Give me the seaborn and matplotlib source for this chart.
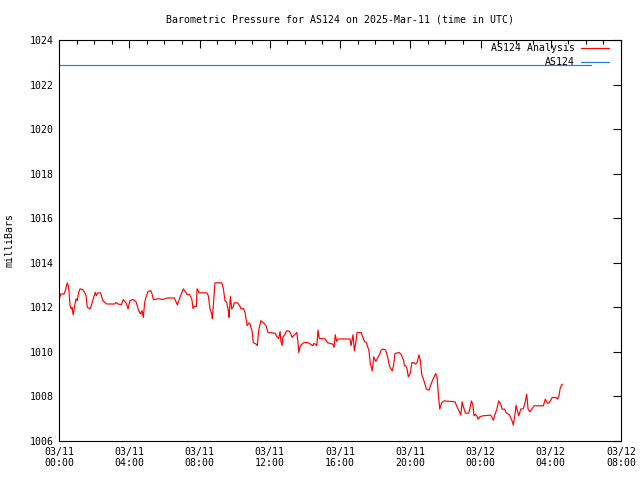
import matplotlib
matplotlib.use("Agg")
import matplotlib.pyplot as plt
import seaborn as sns
import pandas as pd
from matplotlib.ticker import MultipleLocator

# ---- data (hours since 2025-03-11 00:00 UTC, pressure in mb) ----
analysis_hours = [
    0.00, 0.10, 0.28, 0.36, 0.47, 0.55, 0.63, 0.70, 0.74, 0.81, 0.89, 0.97, 1.04, 1.12, 1.20,
    1.35, 1.46, 1.54, 1.61, 1.77, 1.84, 1.99, 2.07, 2.12, 2.22, 2.37, 2.49, 2.72, 3.17, 3.25,
    3.36, 3.55, 3.66, 3.82, 3.93, 4.04, 4.23, 4.38, 4.54, 4.65, 4.73, 4.80, 4.88, 4.95, 5.07,
    5.22, 5.30, 5.37, 5.60, 5.75, 5.85, 6.04, 6.15, 6.57, 6.74, 6.89, 7.08, 7.22, 7.29, 7.44,
    7.56, 7.63, 7.70, 7.82, 7.86, 7.93, 7.97, 8.41, 8.50, 8.60, 8.70, 8.73, 8.79, 8.88, 9.27,
    9.36, 9.45, 9.55, 9.64, 9.68, 9.76, 9.83, 9.91, 9.98, 10.18, 10.31, 10.36, 10.50, 10.59, 10.67,
    10.71, 10.82, 10.88, 10.93, 10.99, 11.06, 11.22, 11.29, 11.37, 11.49, 11.63, 11.79, 11.90, 12.20, 12.32,
    12.40, 12.51, 12.59, 12.63, 12.70, 12.74, 12.85, 12.97, 13.12, 13.19, 13.27, 13.54, 13.61, 13.65, 13.72,
    13.84, 13.95, 14.14, 14.25, 14.37, 14.45, 14.52, 14.60, 14.68, 14.75, 14.82, 14.96, 15.15, 15.28, 15.43,
    15.59, 15.66, 15.73, 15.81, 15.89, 15.96, 16.57, 16.63, 16.70, 16.74, 16.82, 16.90, 16.97, 17.20, 17.27,
    17.39, 17.50, 17.58, 17.65, 17.73, 17.81, 17.84, 17.92, 18.04, 18.11, 18.26, 18.34, 18.45, 18.60, 18.72,
    18.79, 18.87, 18.98, 19.06, 19.13, 19.36, 19.48, 19.63, 19.66, 19.74, 19.82, 19.89, 20.01, 20.09, 20.20,
    20.31, 20.39, 20.50, 20.58, 20.65, 20.77, 20.92, 21.07, 21.18, 21.30, 21.45, 21.53, 21.60, 21.68, 21.79,
    21.92, 22.55, 22.68, 22.80, 22.88, 22.95, 23.06, 23.14, 23.33, 23.41, 23.48, 23.56, 23.63, 23.71, 23.79,
    23.86, 23.97, 24.13, 24.58, 24.66, 24.73, 24.81, 24.93, 25.04, 25.15, 25.23, 25.38, 25.46, 25.61, 25.72,
    25.80, 25.87, 25.95, 26.03, 26.10, 26.18, 26.29, 26.44, 26.56, 26.63, 26.71, 26.82, 26.94, 27.05, 27.58,
    27.69, 27.81, 27.92, 28.08, 28.30, 28.38, 28.46, 28.53, 28.61, 28.68,
]
analysis_mb = [
    1012.35, 1012.60, 1012.60, 1012.75, 1013.10, 1012.90, 1012.08, 1011.93, 1012.00, 1011.66, 1012.08, 1012.38, 1012.30, 1012.67, 1012.83,
    1012.80, 1012.67, 1012.53, 1012.00, 1011.93, 1012.08, 1012.49, 1012.67, 1012.53, 1012.65, 1012.65, 1012.30, 1012.15, 1012.15, 1012.22,
    1012.15, 1012.12, 1012.35, 1012.20, 1011.93, 1012.30, 1012.35, 1012.26, 1011.85, 1011.70, 1011.85, 1011.55, 1012.22, 1012.45, 1012.71,
    1012.75, 1012.60, 1012.35, 1012.38, 1012.38, 1012.35, 1012.38, 1012.42, 1012.42, 1012.11, 1012.45, 1012.83, 1012.67, 1012.57, 1012.57,
    1012.38, 1011.95, 1012.04, 1012.04, 1012.83, 1012.75, 1012.65, 1012.65, 1012.53, 1011.93, 1011.70, 1011.50, 1012.11, 1013.10, 1013.10,
    1012.83, 1012.30, 1012.22, 1011.85, 1011.55, 1012.49, 1011.93, 1012.00, 1012.20, 1012.20, 1012.04, 1011.93, 1011.95, 1011.77, 1011.40,
    1011.18, 1011.30, 1011.25, 1011.10, 1010.95, 1010.42, 1010.35, 1010.28, 1010.95, 1011.40, 1011.32, 1011.18, 1010.87, 1010.85, 1010.83,
    1010.68, 1010.60, 1010.92, 1010.50, 1010.28, 1010.65, 1010.77, 1010.95, 1010.92, 1010.83, 1010.65, 1010.87, 1010.42, 1009.97, 1010.23,
    1010.35, 1010.42, 1010.42, 1010.38, 1010.32, 1010.28, 1010.38, 1010.35, 1010.28, 1010.98, 1010.60, 1010.60, 1010.58, 1010.42, 1010.38,
    1010.35, 1010.20, 1010.77, 1010.47, 1010.58, 1010.58, 1010.58, 1010.28, 1010.58, 1010.77, 1010.05, 1010.42, 1010.87, 1010.87, 1010.72,
    1010.47, 1010.42, 1010.23, 1010.05, 1009.45, 1009.27, 1009.15, 1009.78, 1009.57, 1009.68, 1009.90, 1010.08, 1010.13, 1010.08, 1009.75,
    1009.45, 1009.27, 1009.15, 1009.45, 1009.93, 1009.97, 1009.90, 1009.60, 1009.38, 1009.38, 1009.23, 1008.88, 1009.07, 1009.52, 1009.52,
    1009.45, 1009.52, 1009.87, 1009.60, 1009.00, 1008.73, 1008.33, 1008.28, 1008.55, 1008.78, 1009.03, 1008.85, 1008.10, 1007.43, 1007.72,
    1007.80, 1007.76, 1007.50, 1007.31, 1007.16, 1007.76, 1007.45, 1007.25, 1007.25, 1007.50, 1007.80, 1007.65, 1007.13, 1007.20, 1007.13,
    1006.98, 1007.09, 1007.13, 1007.16, 1007.05, 1006.93, 1007.16, 1007.43, 1007.80, 1007.65, 1007.43, 1007.43, 1007.27, 1007.20, 1007.05,
    1006.90, 1006.71, 1007.13, 1007.61, 1007.35, 1007.13, 1007.43, 1007.45, 1007.80, 1008.10, 1007.43, 1007.31, 1007.45, 1007.58, 1007.58,
    1007.88, 1007.70, 1007.72, 1007.95, 1007.95, 1007.88, 1008.00, 1008.33, 1008.51, 1008.55,
]
station_hours = [0.0, 30.3]
station_mb = [1022.9, 1022.9]

x_tick_hours = [0, 4, 8, 12, 16, 20, 24, 28, 32]
x_tick_labels = ["03/11\n00:00", "03/11\n04:00", "03/11\n08:00", "03/11\n12:00", "03/11\n16:00",
                 "03/11\n20:00", "03/12\n00:00", "03/12\n04:00", "03/12\n08:00"]
y_ticks = [1006, 1008, 1010, 1012, 1014, 1016, 1018, 1020, 1022, 1024]

title = "Barometric Pressure for AS124 on 2025-Mar-11 (time in UTC)"
ylabel = "milliBars"
label_analysis = "AS124 Analysis"
label_station = "AS124"
color_analysis = "#ff0000"
color_station = "#1f7fdc"

# ---- plot ----
sns.set_style("white")
plt.rcParams["font.family"] = ["DejaVu Sans Mono"]
plt.rcParams["font.size"] = 7.1
for key in ["text.color", "axes.labelcolor", "xtick.color", "ytick.color", "axes.edgecolor"]:
    plt.rcParams[key] = "black"

fig = plt.figure(figsize=(6.4, 4.8), dpi=100)
ax = fig.add_axes([59 / 640, 1 - 441 / 480, 562 / 640, 401 / 480])

df_a = pd.DataFrame({"hour": analysis_hours, "mb": analysis_mb})
df_s = pd.DataFrame({"hour": station_hours, "mb": station_mb})

sns.lineplot(data=df_a, x="hour", y="mb", ax=ax, color=color_analysis, linewidth=0.85,
             estimator=None, sort=False)
sns.lineplot(data=df_s, x="hour", y="mb", ax=ax, color=color_station, linewidth=0.85,
             estimator=None, sort=False)

ax.set_xlim(0, 32)
ax.set_ylim(1006, 1024)
ax.set_xticks(x_tick_hours)
ax.set_xticklabels(x_tick_labels, fontsize=7.1)
ax.set_yticks(y_ticks)
ax.set_yticklabels([str(v) for v in y_ticks], fontsize=7.1)
ax.xaxis.set_minor_locator(MultipleLocator(1))
ax.tick_params(axis="both", which="both", direction="in", top=True, right=True,
               color="black", labelcolor="black", width=0.8)
ax.tick_params(axis="both", which="major", length=6, pad=4)
ax.tick_params(axis="x", which="minor", length=3)
ax.set_xlabel("")
ax.set_ylabel("")
for s in ax.spines.values():
    s.set_color("black")
    s.set_linewidth(0.8)

# legend (gnuplot-style, right aligned text)
rows = [(label_analysis, color_analysis, 0.980), (label_station, color_station, 0.946)]
for lab, col, yy in rows:
    ax.text(0.918, yy, lab, transform=ax.transAxes, ha="right", va="center", fontsize=7.1,
            color="black")
    ax.plot([0.929, 0.979], [yy, yy], transform=ax.transAxes, color=col, linewidth=0.85)

fig.text(340 / 640, 1 - 20 / 480, title, ha="center", va="center", fontsize=7.1, color="black")
fig.text(10 / 640, 0.5, ylabel, ha="center", va="center", rotation=90, fontsize=7.1,
         color="black")

fig.savefig("out.png", dpi=100)
